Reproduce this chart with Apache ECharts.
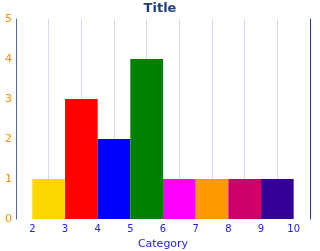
<!DOCTYPE html>
<html><head><meta charset="utf-8">
<script src="https://cdn.jsdelivr.net/npm/echarts@6/dist/echarts.min.js"></script>
<style>html,body{margin:0;padding:0;background:#fff}#c{width:320px;height:251px}</style>
</head><body><div id="c"></div>
<script>
var binStarts = [2, 3, 4, 5, 6, 7, 8, 9];
var counts = [1, 3, 2, 4, 1, 1, 1, 1];
var barColors = ['#FFD700', '#FF0000', '#0000FF', '#008000', '#FF00FF', '#FF9900', '#CC0066', '#330099'];
var xTickLabels = [2, 3, 4, 5, 6, 7, 8, 9, 10];

var chart = echarts.init(document.getElementById('c'));
var font = 'DejaVu Sans';
chart.setOption({
  animation: false,
  title: {text: 'Title', left: 'center', top: 2, padding: 0, textStyle: {fontFamily: font, fontSize: 13, fontWeight: 'bold', color: '#23407A'}},
  grid: {left: 16, right: 10, top: 19, bottom: 32, containLabel: false, outerBoundsMode: 'none'},
  xAxis: [{
    type: 'value', min: 1.5, max: 10.5,
    axisLine: {show: false}, axisTick: {show: false}, splitLine: {show: false},
    axisLabel: {customValues: xTickLabels, color: '#2020FF', fontFamily: font, fontSize: 10, margin: 5},
    name: 'Category', nameLocation: 'middle', nameGap: 17,
    nameTextStyle: {color: '#2020FF', fontFamily: font, fontSize: 11}
  }, {
    type: 'value', min: 0, max: 9, interval: 1, position: 'top',
    axisLine: {show: false}, axisTick: {show: false}, axisLabel: {show: false},
    splitLine: {show: true, showMinLine: false, showMaxLine: false, lineStyle: {color: '#DCD6F4', width: 1}}
  }],
  yAxis: [{
    type: 'value', min: 0, max: 5, interval: 1,
    axisLine: {show: true, lineStyle: {color: '#4F6E9E', width: 1}},
    axisTick: {show: false}, splitLine: {show: false},
    axisLabel: {color: '#FF8C00', fontFamily: font, fontSize: 11, margin: 4}
  }, {
    type: 'value', min: 0, max: 5, interval: 1, position: 'right',
    axisLine: {show: true, lineStyle: {color: '#1F3F8F', width: 1}},
    axisTick: {show: false}, axisLabel: {show: false}, splitLine: {show: false}
  }],
  series: [{
    type: 'custom', xAxisIndex: 0, yAxisIndex: 0,
    data: binStarts.map(function (b, i) { return [b, counts[i]]; }),
    renderItem: function (params, api) {
      var x0 = api.value(0), y = api.value(1);
      var p0 = api.coord([x0, 0]);
      var p1 = api.coord([x0 + 1, y]);
      return {type: 'rect', shape: {x: p0[0], y: p1[1], width: p1[0] - p0[0], height: p0[1] - p1[1]},
        style: {fill: barColors[params.dataIndex]}};
    }
  }]
});
</script></body></html>
